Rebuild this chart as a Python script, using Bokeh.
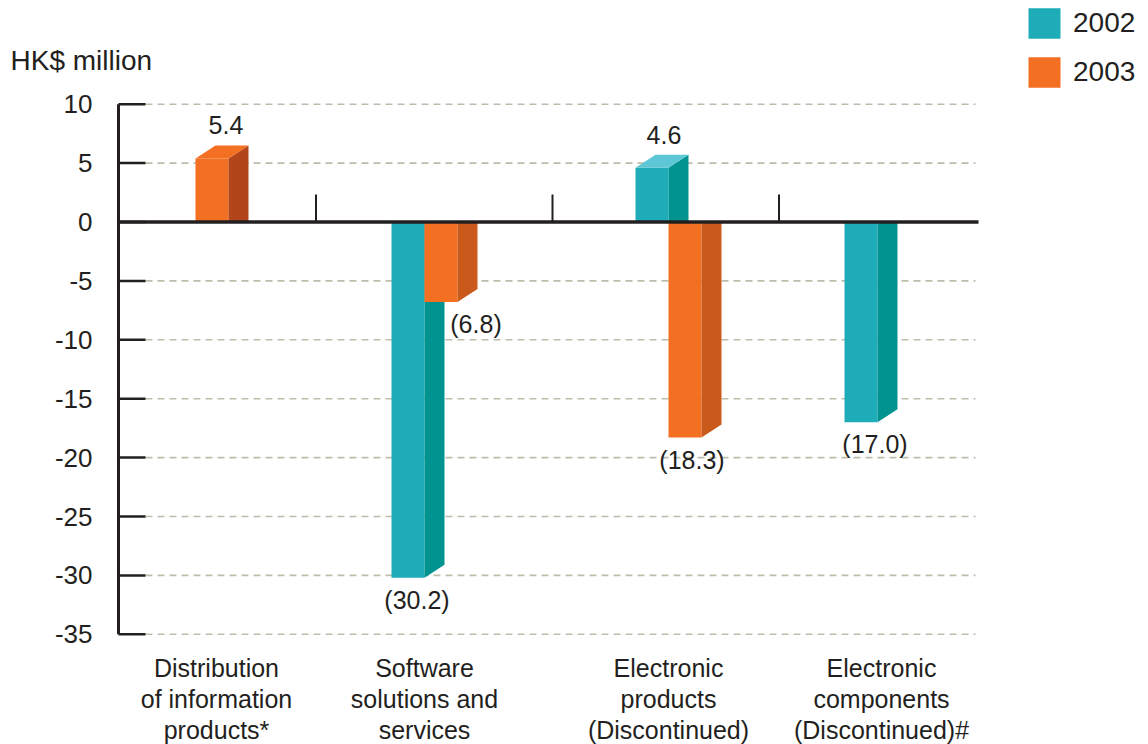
from bokeh.plotting import figure
from bokeh.models import Range1d, Legend, LegendItem
from bokeh.core.properties import value
from bokeh.embed import file_html
from bokeh.resources import INLINE

# ---------------- data ----------------
categories = [
    "Distribution\nof information\nproducts*",
    "Software\nsolutions and\nservices",
    "Electronic\nproducts\n(Discontinued)",
    "Electronic\ncomponents\n(Discontinued)#",
]
series_names = ["2002", "2003"]
values_2002 = [None, -30.2, 4.6, -17.0]
values_2003 = [5.4, -6.8, -18.3, None]
labels_2002 = ["", "(30.2)", "4.6", "(17.0)"]
labels_2003 = ["5.4", "(6.8)", "(18.3)", ""]
y_ticks = [10, 5, 0, -5, -10, -15, -20, -25, -30, -35]
y_tick_labels = ["10", "5", "0", "-5", "-10", "-15", "-20", "-25", "-30", "-35"]
unit_label = "HK$ million"

# ---------------- layout / style ----------------
FONT = "Liberation Sans"
TXT = "#231f20"
W, H = 1148, 744
Y0_PX = 221.5      # picture row of zero
PPU = 11.78        # pixels per unit
def sy(px):        # picture row -> data y
    return (Y0_PX - px) / PPU

AXIS_X = 118
TICK_END = 145
GRID_END = 975
ZERO_END = 978
group_x = [195, 424, 668, 877]       # boundary between 2002 and 2003 bars
label_x = [216, 424, 668, 881]
BAR_W = 33
DX = 20
DY = 13 / PPU
label_dx = [[0, 9, 12, 14], [14, 35, 7, 0]]

colors = {
    "front": ["#1eadb8", "#f36f21"],
    "side_pos": ["#00938f", "#b2461a"],
    "side_neg": ["#00938f", "#c95a1b"],
    "top": ["#5ec7d5", "#f36f21"],
}

p = figure(width=W, height=H, output_backend="svg", toolbar_location=None,
           x_range=Range1d(0, W), y_range=Range1d(sy(H), sy(0)),
           min_border=0, x_axis_location=None, y_axis_location=None)
p.outline_line_color = None
p.grid.visible = False
p.background_fill_color = "white"

# dashed grid lines
gy = [t for t in y_ticks if t != 0]
p.segment(x0=[TICK_END] * len(gy), x1=[GRID_END] * len(gy), y0=gy, y1=gy,
          line_color="#bdbdac", line_width=1.6, line_dash="7 5")

# y axis (line, inward ticks, labels)
p.segment(x0=[AXIS_X], x1=[AXIS_X], y0=[min(y_ticks)], y1=[max(y_ticks)],
          line_color=TXT, line_width=3)
p.segment(x0=[AXIS_X] * len(y_ticks), x1=[TICK_END] * len(y_ticks), y0=y_ticks, y1=y_ticks,
          line_color=TXT, line_width=2.5)
p.text(x=[AXIS_X - 26] * len(y_ticks), y=y_ticks, text=y_tick_labels,
       text_align="right", text_baseline="middle",
       text_font=value(FONT), text_font_size="26px", text_color=TXT)

# bars
series_vals = [values_2002, values_2003]
front_renderers = []
for s, vals in enumerate(series_vals):
    fx0, fx1, fb, ft = [], [], [], []
    sxs, sys_, scol = [], [], []
    txs, tys = [], []
    for i, v in enumerate(vals):
        if v is None:
            continue
        x0 = group_x[i] - BAR_W if s == 0 else group_x[i]
        x1 = x0 + BAR_W
        fx0.append(x0); fx1.append(x1)
        fb.append(min(0, v)); ft.append(max(0, v))
        sxs.append([x1, x1 + DX, x1 + DX, x1])
        sys_.append([0, 0, v + DY, v])
        scol.append(colors["side_pos"][s] if v > 0 else colors["side_neg"][s])
        if v > 0:
            txs.append([x0, x0 + DX, x1 + DX, x1])
            tys.append([v, v + DY, v + DY, v])
    r = p.quad(left=fx0, right=fx1, bottom=fb, top=ft,
               fill_color=colors["front"][s], line_color=None)
    front_renderers.append(r)
    p.patches(xs=sxs, ys=sys_, fill_color=scol, line_color=None)
    if txs:
        p.patches(xs=txs, ys=tys, fill_color=colors["top"][s], line_color=None)

# zero line
p.segment(x0=[AXIS_X], x1=[ZERO_END], y0=[0], y1=[0], line_color=TXT, line_width=3.5)

# separators
sep_x = [(group_x[i] + group_x[i + 1]) / 2 + 6 for i in range(len(group_x) - 1)]
p.segment(x0=sep_x, x1=sep_x, y0=[0] * len(sep_x), y1=[sy(194)] * len(sep_x),
          line_color=TXT, line_width=2)

# value labels
lx, ly, lt = [], [], []
for s, (vals, labs) in enumerate(zip(series_vals, [labels_2002, labels_2003])):
    for i, (v, t) in enumerate(zip(vals, labs)):
        if v is None:
            continue
        x0 = group_x[i] - BAR_W if s == 0 else group_x[i]
        cx = x0 + BAR_W / 2 + label_dx[s][i]
        yy = v + 33 / PPU if v > 0 else v - 22 / PPU
        lx.append(cx); ly.append(yy); lt.append(t)
p.text(x=lx, y=ly, text=lt, text_align="center", text_baseline="middle",
       text_font=value(FONT), text_font_size="25px", text_color=TXT)

# category labels (one text per line)
cx_, cy_, ct_ = [], [], []
for i, cat in enumerate(categories):
    for j, line in enumerate(cat.split("\n")):
        cx_.append(label_x[i]); cy_.append(sy(667 + 31 * j)); ct_.append(line)
p.text(x=cx_, y=cy_, text=ct_, text_align="center", text_baseline="middle",
       text_font=value(FONT), text_font_size="25px", text_color=TXT)

# unit label
p.text(x=[10], y=[sy(60)], text=[unit_label], text_align="left", text_baseline="middle",
       text_font=value(FONT), text_font_size="28px", text_color=TXT)

# legend
legend = Legend(items=[LegendItem(label=n, renderers=[r]) for n, r in zip(series_names, front_renderers)],
                location="top_right", margin=4, padding=0, spacing=11,
                glyph_width=40, glyph_height=38, label_standoff=9, label_width=71,
                label_text_font=FONT, label_text_font_size="28px", label_text_color=TXT,
                background_fill_alpha=0, border_line_color=None)
p.add_layout(legend)

open("out.html", "w").write(file_html(p, INLINE))
